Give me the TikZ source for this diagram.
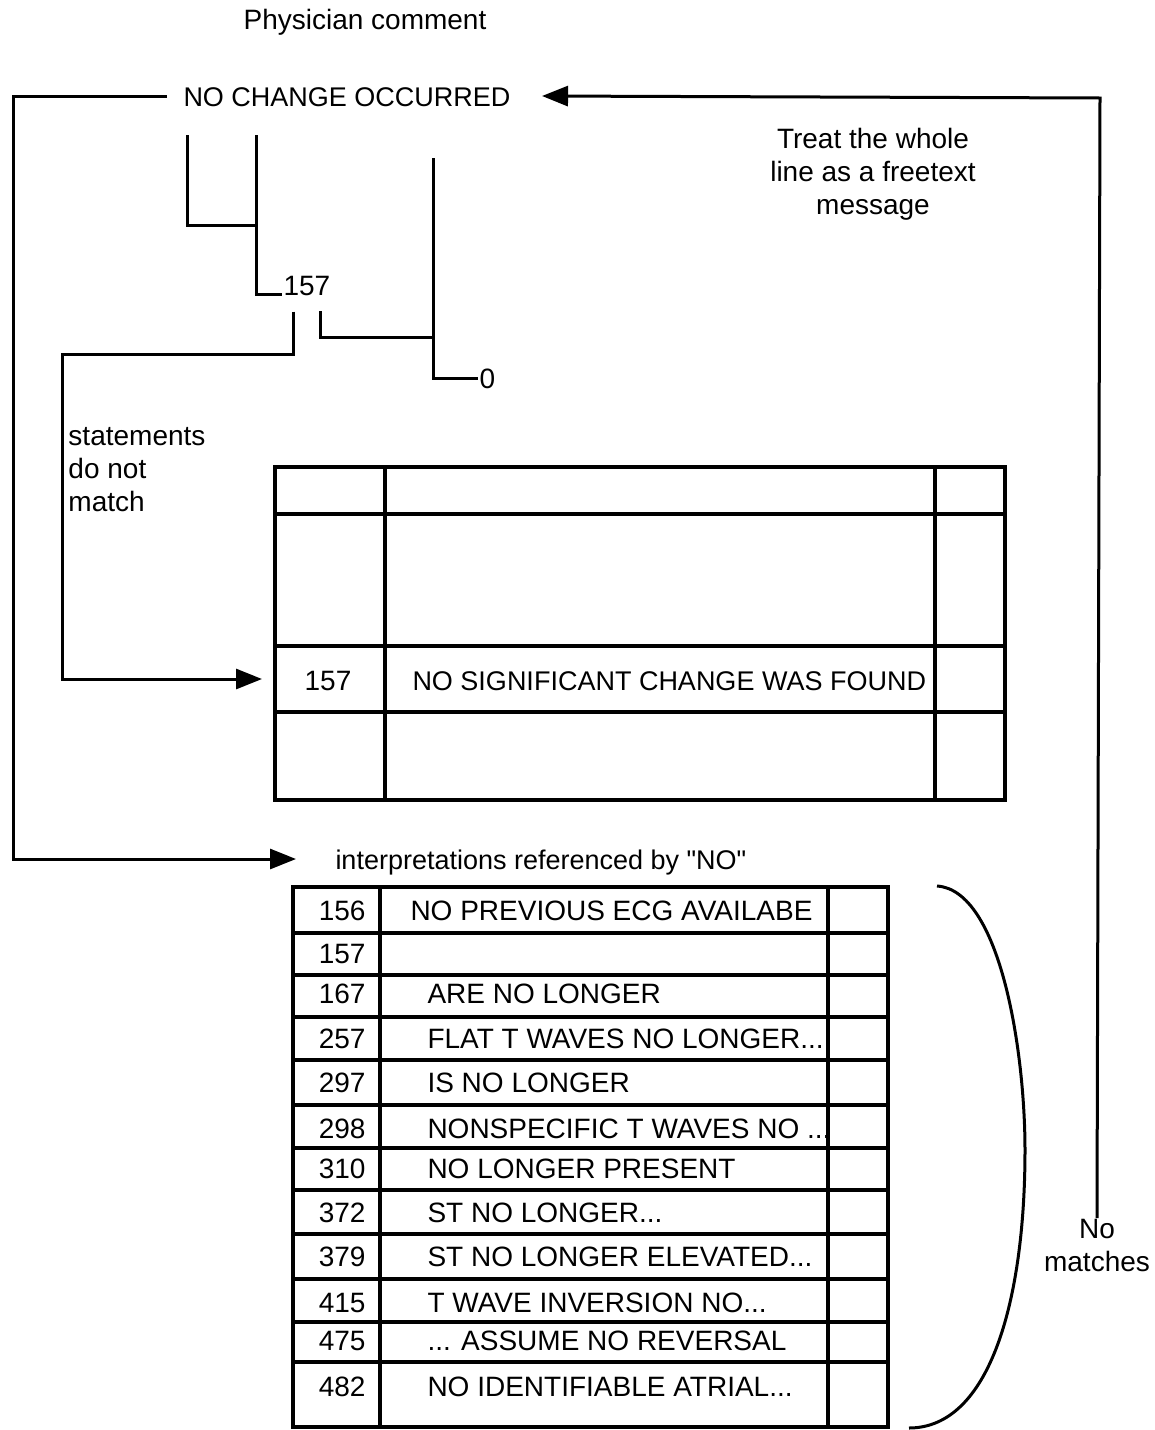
\documentclass[tikz,border=0pt]{standalone}
\usepackage{fontspec}
\setmainfont{Liberation Sans}
\usetikzlibrary{arrows.meta,calc}
\newcommand\tdots{...}
\tikzset{
	lbl/.style={font=\fontsize{14}{16.5}\selectfont, inner sep=0pt},
	celltxt/.style={lbl, text height=10pt, text depth=0pt},
	captxt/.style={celltxt, font=\fontsize{13.5}{16}\selectfont},
	arr/.style={-{Triangle[length=13pt,width=10pt]}},
}
\begin{document}
\begin{tikzpicture}[x=0.5pt, y=-0.5pt, line width=1.5pt]
	\useasboundingbox (0,0) rectangle (1155,1430);
	% headings and notes
	\node[lbl] (phys) at (365,22) {Physician comment};
	\node[captxt, anchor=west] (nco) at (182,96) {NO CHANGE OCCURRED};
	\node[lbl, align=center] (treat) at (873,174) {Treat the whole\\line as a freetext\\message};
	\node[lbl, align=left, anchor=west] (stmt) at (67,470) {statements\\do not\\match};
	\node[lbl, align=center, anchor=north] (nomatch) at (1097,1218) {No\\matches};
	\node[captxt, anchor=west] (interp) at (334,859) {interpretations referenced by \textquotedbl NO\textquotedbl};
	% parse tree
	\node[celltxt, anchor=west] (t157) at (282,285) {157};
	\node[celltxt, anchor=west] (zero) at (478,378) {0};
	\draw (187,135) -- (187,225) -- (256,225);
	\draw (256,135) |- ($(t157.south west)+(0,-2)$);
	\draw (433,158) |- (zero.west);
	\draw (320,311) |- (433,337);
	% upper table
	\draw[line width=1.6pt] (275,467) rectangle (1005,800);
	\foreach \y in {514, 646, 712} \draw[line width=1.6pt] (275,\y)--(1005,\y);
	\foreach \x in {385, 935} \draw[line width=1.6pt] (\x,467)--(\x,800);
	\coordinate (urow) at (275,679);
	\node[celltxt] (u157) at (328,680) {157};
	\node[captxt, anchor=west] (usig) at (411,680) {NO SIGNIFICANT CHANGE WAS FOUND};
	% lower table
	\draw[line width=1.6pt] (293,887) rectangle (888,1427);
	\foreach \y in {933, 975, 1017, 1060, 1105, 1148, 1190, 1234, 1279, 1322, 1362} \draw[line width=1.6pt] (293,\y)--(888,\y);
	\foreach \x in {380, 828} \draw[line width=1.6pt] (\x,887)--(\x,1427);
	\foreach \n/\t/\y [count=\i] in {156/NO PREVIOUS ECG AVAILABE/910, 157//953, 167/ARE NO LONGER/993,
		257/FLAT T WAVES NO LONGER\tdots/1038, 297/IS NO LONGER/1082, 298/NONSPECIFIC T WAVES NO \tdots/1128,
		310/NO LONGER PRESENT/1168, 372/ST NO LONGER\tdots/1212, 379/ST NO LONGER ELEVATED\tdots/1256,
		415/T WAVE INVERSION NO\tdots/1302, 475/\tdots{} ASSUME NO REVERSAL/1340, 482/NO IDENTIFIABLE ATRIAL\tdots/1386}
	{
		\node[celltxt, anchor=east] (num\i) at (367,\y) {\n};
		\node[celltxt, anchor=west] (txt\i) at ({\i==1 ? 409 : 426},\y) {\t};
	}
	% connectors
	\draw[arr, shorten <=7.5pt, shorten >=19pt] (nco.west) -- (13,96) |- (interp.west);
	\draw[arr] (nomatch.north) -- (1100,98) -- ($(nco.east)+(30,0)$);
	\draw[arr, shorten >=6.5pt] ($(t157.south west)+(11,15)$) |- (62,354) |- (urow);
	% bracket round the lower table
	\draw (937,886) .. controls (1000,890) and (1025,1050) .. (1025,1150)
		.. controls (1025,1300) and (990,1428) .. (909,1428);
\end{tikzpicture}
\end{document}
